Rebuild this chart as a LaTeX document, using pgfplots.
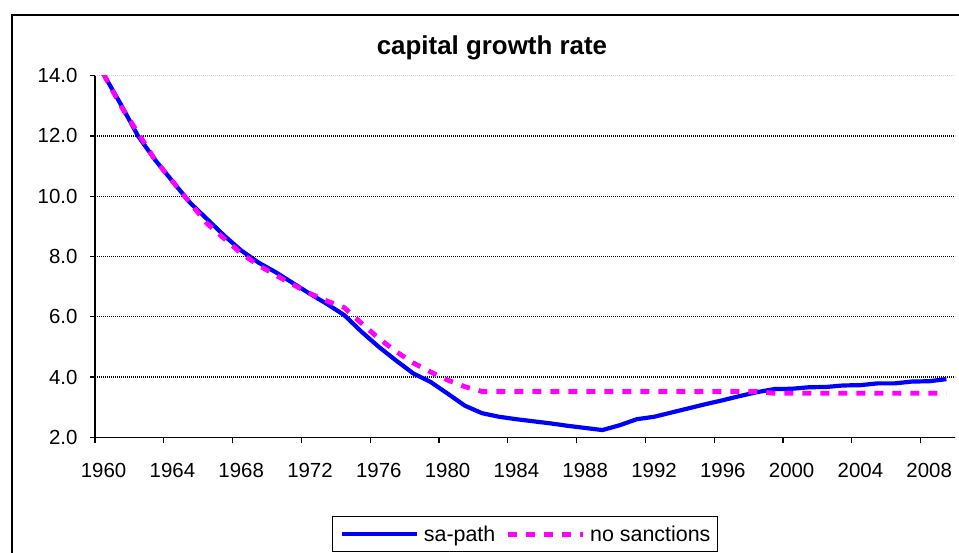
\documentclass[border=0pt]{standalone}
\usepackage{fontspec}
\setmainfont{Liberation Sans}
\usepackage{pgfplots}
\pgfplotsset{compat=1.18}
\definecolor{sablue}{RGB}{0,0,255}
\definecolor{nsmag}{RGB}{255,0,255}
\begin{document}
\begin{tikzpicture}[x=1bp,y=1bp]
\useasboundingbox (0,0) rectangle (959,553);
\draw[line width=1.6bp] (12,-20) rectangle (985,538);
\begin{axis}[
  at={(95bp,115.7bp)}, anchor=south west,
  scale only axis, width=860bp, height=361.6bp,
  xmin=1959.5, xmax=2009.5, ymin=2, ymax=14,
  clip=true,
  axis x line*=bottom, axis y line*=left,
  axis line style={line width=1.4bp, -},
  tick align=outside,
  xtick={1960,1964,1968,1972,1976,1980,1984,1988,1992,1996,2000,2004,2008},
  xticklabels={1960,1964,1968,1972,1976,1980,1984,1988,1992,1996,2000,2004,2008},
  minor xtick={1959.5,1963.5,1967.5,1971.5,1975.5,1979.5,1983.5,1987.5,1991.5,1995.5,1999.5,2003.5,2007.5},
  major x tick style={draw=none},
  minor tick length=6bp,
  minor x tick style={line width=1.3bp, black},
  ytick={2,4,6,8,10,12},
  extra y ticks={14},
  extra y tick style={grid style={gray!35, line width=0.8bp, dash pattern=on 1bp off 1bp}},
  major tick length=5bp,
  y tick style={line width=1.3bp, black},
  ymajorgrids,
  grid style={black, line width=1.3bp, dash pattern=on 1.4bp off 0.6bp},
  tick label style={font=\fontsize{20.5}{24}\selectfont},
  xticklabel style={yshift=-17bp},
  yticklabel style={xshift=-9bp, /pgf/number format/.cd, fixed, fixed zerofill, precision=1, assume math mode=true},
  title={\bfseries capital growth rate},
  title style={at={(0.4616,1.0423)}, anchor=base, font=\fontsize{26}{30}\selectfont\bfseries, inner sep=0pt},
  legend columns=2,
  legend image code/.code={\draw[#1] (0bp,0bp) -- (75bp,0bp);},
  legend style={at={(0.2756,-0.2174)}, anchor=north west, draw=black, line width=1.4bp,
    font=\fontsize{21.5}{25}\selectfont, inner xsep=7bp, inner ysep=9bp,
    nodes={inner sep=0pt},
    /tikz/every odd column/.append style={column sep=5bp},
    /tikz/every even column/.append style={column sep=10bp}},
]
\addplot[sablue, line width=4.2bp, line join=round] coordinates {
(1960,14.05) (1961,13.05) (1962,12.0) (1963,11.2) (1964,10.5) (1965,9.8) (1966,9.25) (1967,8.7) (1968,8.2) (1969,7.8)
(1970,7.48) (1971,7.12) (1972,6.76) (1973,6.42) (1974,6.05) (1975,5.5) (1976,5.0) (1977,4.55) (1978,4.12) (1979,3.84)
(1980,3.45) (1981,3.05) (1982,2.8) (1983,2.68) (1984,2.6) (1985,2.53) (1986,2.46) (1987,2.38) (1988,2.31) (1989,2.24)
(1990,2.4) (1991,2.6) (1992,2.68) (1993,2.82) (1994,2.96) (1995,3.1) (1996,3.23) (1997,3.37) (1998,3.5) (1999,3.6)
(2000,3.61) (2001,3.66) (2002,3.67) (2003,3.72) (2004,3.73) (2005,3.79) (2006,3.79) (2007,3.85) (2008,3.86) (2009,3.93)
};
\addlegendentry{sa-path}
\addplot[nsmag, line width=4.8bp, dash pattern=on 9bp off 9bp] coordinates {
(1960,14.05) (1961,13.0) (1962,12.1) (1963,11.2) (1964,10.5) (1965,9.8) (1966,9.1) (1967,8.6) (1968,8.1) (1969,7.71)
(1970,7.38) (1971,7.07) (1972,6.77) (1973,6.52) (1974,6.3) (1975,5.78) (1976,5.28) (1977,4.85) (1978,4.47) (1979,4.17)
(1980,3.9) (1981,3.68) (1982,3.52) (1983,3.52) (1984,3.52) (1985,3.52) (1986,3.52) (1987,3.52) (1988,3.52) (1989,3.52)
(1990,3.52) (1991,3.52) (1992,3.52) (1993,3.52) (1994,3.52) (1995,3.52) (1996,3.52) (1997,3.52) (1998,3.52) (1999,3.46)
(2000,3.46) (2001,3.46) (2002,3.46) (2003,3.46) (2004,3.46) (2005,3.46) (2006,3.46) (2007,3.46) (2008,3.46) (2009,3.46)
};
\addlegendentry{no sanctions}
\end{axis}
\end{tikzpicture}
\end{document}
